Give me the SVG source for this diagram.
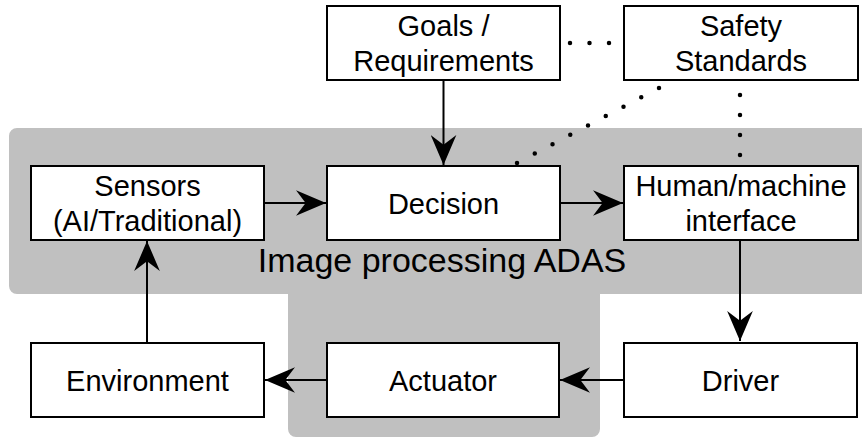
<svg xmlns="http://www.w3.org/2000/svg" width="862" height="439" viewBox="0 0 862 439">
  <style>
    .box { fill: #ffffff; stroke: #000000; stroke-width: 2; }
    .lbl { font-family: "Liberation Sans", Arial, Helvetica, sans-serif; font-size: 29px; fill: #000000; text-anchor: middle; }
    .area { font-family: "Liberation Sans", Arial, Helvetica, sans-serif; font-size: 34px; fill: #000000; text-anchor: middle; }
    .flow { fill: none; stroke: #000000; stroke-width: 2; marker-end: url(#head); }
    .dots { fill: none; stroke: #000000; stroke-width: 4.5; stroke-linecap: round; }
  </style>
  <defs>
    <marker id="head" markerUnits="userSpaceOnUse" markerWidth="30" markerHeight="26" viewBox="0 0 28 24" refX="28" refY="12" orient="auto">
      <path d="M0,0 L28,12 L0,24 L9,12 Z" fill="#000000"/>
    </marker>
  </defs>

  <!-- ADAS processing region -->
  <g id="adas-region">
    <path d="M17,128 H870 V294 H600 V429 A8,8 0 0 1 592,437 H296 A8,8 0 0 1 288,429 V294 H17 A8,8 0 0 1 9,286 V136 A8,8 0 0 1 17,128 Z" fill="#c0c0c0"/>
    <text class="area" x="442" y="272">Image processing ADAS</text>
  </g>

  <!-- connectors -->
  <g id="connectors">
    <line class="flow" x1="264" y1="203" x2="326" y2="203"/>
    <line class="flow" x1="560" y1="203" x2="623" y2="203"/>
    <line class="flow" x1="443.5" y1="80" x2="443.5" y2="165"/>
    <line class="flow" x1="740" y1="240" x2="740" y2="341"/>
    <line class="flow" x1="624" y1="380" x2="560" y2="380"/>
    <line class="flow" x1="327" y1="380" x2="265" y2="380"/>
    <line class="flow" x1="147" y1="342" x2="147" y2="241"/>
    <!-- dotted associations; each line runs 1px past its last dot -->
    <line class="dots" x1="570" y1="43" x2="610" y2="43" stroke-dasharray="0 19.5"/>
    <line class="dots" x1="659" y1="88" x2="516" y2="163.5" stroke-dasharray="0 20.07"/>
    <line class="dots" x1="740" y1="95" x2="740" y2="156" stroke-dasharray="0 20"/>
  </g>

  <g id="goals">
    <rect class="box" x="327" y="6" width="233" height="74"/>
    <text class="lbl" x="443.5" y="35.5">Goals /</text>
    <text class="lbl" x="443.5" y="71">Requirements</text>
  </g>
  <g id="safety">
    <rect class="box" x="624" y="6" width="234" height="74"/>
    <text class="lbl" x="741" y="35.5">Safety</text>
    <text class="lbl" x="741" y="71">Standards</text>
  </g>
  <g id="sensors">
    <rect class="box" x="31" y="166" width="233" height="74"/>
    <text class="lbl" x="147.5" y="195.5">Sensors</text>
    <text class="lbl" x="147.5" y="231">(AI/Traditional)</text>
  </g>
  <g id="decision">
    <rect class="box" x="327" y="166" width="233" height="74"/>
    <text class="lbl" x="443.5" y="213.5">Decision</text>
  </g>
  <g id="hmi">
    <rect class="box" x="624" y="166" width="234" height="74"/>
    <text class="lbl" x="741" y="195.5">Human/machine</text>
    <text class="lbl" x="741" y="231">interface</text>
  </g>
  <g id="environment">
    <rect class="box" x="31" y="343" width="233" height="74"/>
    <text class="lbl" x="147.5" y="390.5">Environment</text>
  </g>
  <g id="actuator">
    <rect class="box" x="327" y="343" width="232" height="74"/>
    <text class="lbl" x="443" y="390.5">Actuator</text>
  </g>
  <g id="driver">
    <rect class="box" x="624" y="343" width="233" height="74"/>
    <text class="lbl" x="740.5" y="390.5">Driver</text>
  </g>
</svg>
